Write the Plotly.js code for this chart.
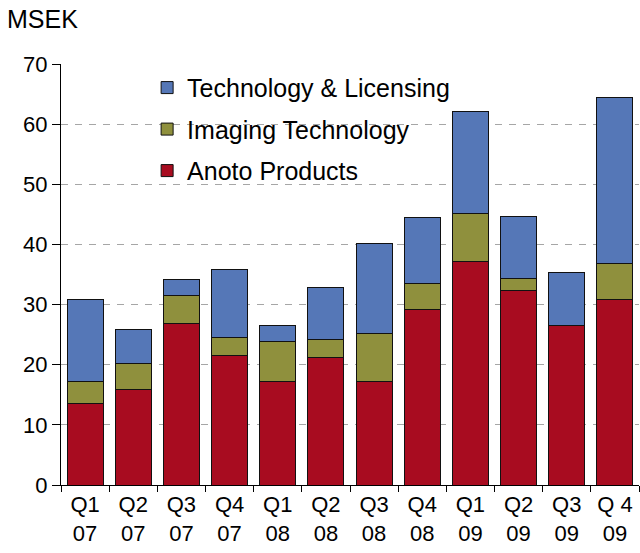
<!DOCTYPE html>
<html>
<head>
<meta charset="utf-8">
<script src="https://cdn.plot.ly/plotly-3.0.1.min.js"></script>
<style>html,body{margin:0;padding:0;background:#fff;}#chart{width:640px;height:553px;}</style>
</head>
<body>
<div id="chart"></div>
<script>
const categories = ['Q1<br>07','Q2<br>07','Q3<br>07','Q4<br>07','Q1<br>08','Q2<br>08','Q3<br>08','Q4<br>08','Q1<br>09','Q2<br>09','Q3<br>09','Q 4<br>09'];
const anotoProducts = [13.5, 15.9, 26.9, 21.5, 17.2, 21.2, 17.2, 29.2, 37.2, 32.3, 26.6, 30.9];
const imagingTechnology = [3.7, 4.3, 4.6, 3.0, 6.7, 3.0, 8.0, 4.3, 8.0, 2.0, 0, 6.0];
const technologyLicensing = [13.6, 5.7, 2.7, 11.4, 2.6, 8.7, 15.0, 11.0, 16.9, 10.3, 8.7, 27.5];
const yTicks = [0, 10, 20, 30, 40, 50, 60, 70];

const line = {color: '#111', width: 1};
const traces = [
  {type: 'bar', name: 'Anoto Products', x: categories, y: anotoProducts, legendgroup: 'a', legendrank: 3,
   marker: {color: '#A80C20', line: line}},
  {type: 'bar', name: 'Imaging Technology', x: categories, y: imagingTechnology, legendgroup: 'b', legendrank: 2,
   marker: {color: '#8F903D', line: line}},
  {type: 'bar', name: 'Technology & Licensing', x: categories, y: technologyLicensing, legendgroup: 'c', legendrank: 1,
   marker: {color: '#5577B7', line: line}}
];

const layout = {
  width: 640, height: 553,
  margin: {l: 61, r: 1, t: 64, b: 68, pad: 0},
  paper_bgcolor: '#fff', plot_bgcolor: '#fff',
  barmode: 'stack', bargap: 0.25,
  font: {family: 'Arial, Liberation Sans, sans-serif', color: '#000', size: 22},
  title: {text: 'MSEK', x: 7/640, xanchor: 'left', xref: 'container', y: 1 - 19/553, yanchor: 'middle', yref: 'container',
          font: {size: 25, color: '#000'}},
  showlegend: true,
  legend: {traceorder: 'grouped', x: 0.149, xanchor: 'left', y: 0.998, yanchor: 'top',
           bgcolor: 'rgba(0,0,0,0)', borderwidth: 0, tracegroupgap: 6,
           font: {size: 25, color: '#000'}},
  shapes: [
    {type: 'rect', xref: 'paper', yref: 'paper', x0: 0.154, x1: 0.781, y0: 0.677, y1: 0.993,
     fillcolor: '#fff', line: {width: 0}, layer: 'between'}
  ],
  xaxis: {type: 'category', showline: true, linecolor: '#000', linewidth: 1,
          ticks: 'outside', tickson: 'boundaries', ticklen: 6, tickcolor: '#000',
          showgrid: false, tickfont: {size: 22}, fixedrange: true},
  yaxis: {range: [0, 70], tickvals: yTicks, showline: true, linecolor: '#000', linewidth: 1,
          ticks: 'outside', ticklen: 8, tickcolor: '#000',
          showgrid: true, gridcolor: '#A6A6A6', griddash: '7px,7px', gridwidth: 1,
          zeroline: false, tickfont: {size: 22}, fixedrange: true}
};

Plotly.newPlot('chart', traces, layout, {displayModeBar: false, staticPlot: true});
</script>
</body>
</html>
